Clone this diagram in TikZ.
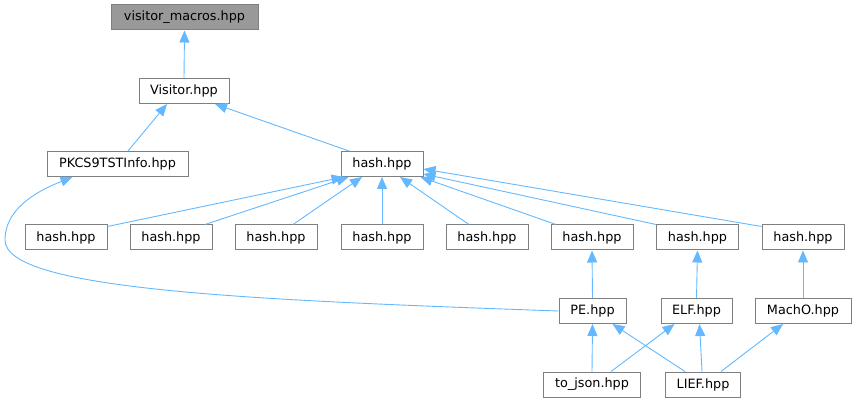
\documentclass[tikz,border=0pt]{standalone}
\usepackage{fontspec}
\setmainfont{DejaVu Sans}
\usetikzlibrary{arrows.meta,calc}
\definecolor{edgeblue}{HTML}{63B8FF}
\definecolor{boxgray}{HTML}{7F7F7F}
\definecolor{rootfill}{HTML}{999999}
\begin{document}
\begin{tikzpicture}[x=1pt,y=-1pt,
  box/.style={draw=boxgray, line width=1pt, fill=white, minimum height=25pt, inner sep=0pt,
    font=\fontsize{12.8}{14}\selectfont, text=black},
  edge/.style={draw=edgeblue, line width=0.9pt, -{Triangle[length=12pt,width=10pt]}}]
\useasboundingbox (0,0) rectangle (856,403);
\node[box, fill=rootfill, minimum width=147pt] (vm) at (184.5,17.5) {visitor\_macros.hpp};
\node[box, minimum width=90pt] (vis) at (184,91) {Visitor.hpp};
\node[box, minimum width=141pt] (pk) at (117.5,164) {PKCS9TSTInfo.hpp};
\node[box, minimum width=82pt] (hash) at (382,164) {hash.hpp};
\node[box, minimum width=82pt] (h1) at (66,237.5) {hash.hpp};
\node[box, minimum width=82pt] (h2) at (171,237.5) {hash.hpp};
\node[box, minimum width=82pt] (h3) at (276,237.5) {hash.hpp};
\node[box, minimum width=82pt] (h4) at (382,237.5) {hash.hpp};
\node[box, minimum width=82pt] (h5) at (487,237.5) {hash.hpp};
\node[box, minimum width=82pt] (h6) at (592,237.5) {hash.hpp};
\node[box, minimum width=82pt] (h7) at (697.5,237.5) {hash.hpp};
\node[box, minimum width=82pt] (h8) at (803,237.5) {hash.hpp};
\node[box, minimum width=67pt] (pe) at (592.5,311) {PE.hpp};
\node[box, minimum width=71pt] (elf) at (696.5,311) {ELF.hpp};
\node[box, minimum width=96pt] (macho) at (803,311) {MachO.hpp};
\node[box, minimum width=97pt] (tj) at (592,384.5) {to\_json.hpp};
\node[box, minimum width=75pt] (lief) at (703,384.5) {LIEF.hpp};

\draw[edge] (vis.north) -- (vm.south);
\draw[edge] ([xshift=10.5pt]pk.north) -- ([xshift=-17pt]vis.south);
\draw[edge] ([xshift=-33pt]hash.north) -- ([xshift=31pt]vis.south);
\draw[edge] ([yshift=-2pt]h1.north east) -- ([xshift=3pt]hash.south west);
\draw[edge] ([xshift=34pt]h2.north) -- ([xshift=8pt]hash.south west);
\draw[edge] ([xshift=17pt]h3.north) -- ([xshift=-20pt]hash.south);
\draw[edge] (h4.north) -- (hash.south);
\draw[edge] ([xshift=-18pt]h5.north) -- ([xshift=18pt]hash.south);
\draw[edge] ([xshift=-36pt]h6.north) -- ([xshift=-3pt]hash.south east);
\draw[edge] (h7.north west) -- ([yshift=3pt]hash.south east);
\draw[edge] ([yshift=-2pt]h8.north west) -- ([yshift=8pt]hash.south east);
\draw[edge] (pe.west) .. controls (250,300) and (5,290) .. (5,240)
  .. controls (5,205) and (45,188) .. ([xshift=-45pt]pk.south);
\draw[edge] (pe.north) -- (h6.south);
\draw[edge] (elf.north) -- (h7.south);
\draw[edge] (macho.north) -- (h8.south);
\draw[edge] (tj.north) -- (pe.south);
\draw[edge] ([xshift=19pt]tj.north) -- ([xshift=-22pt]elf.south);
\draw[edge] ([xshift=-18pt]lief.north) -- ([xshift=20pt]pe.south);
\draw[edge] ([xshift=-1pt]lief.north) -- ([xshift=3pt]elf.south);
\draw[edge] ([xshift=18pt]lief.north) -- ([xshift=-20pt]macho.south);
\end{tikzpicture}
\end{document}
